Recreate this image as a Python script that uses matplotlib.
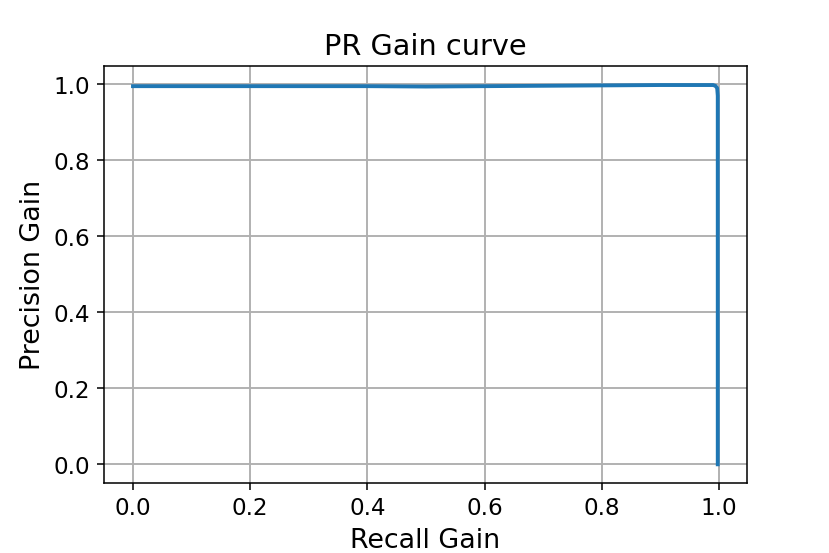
import matplotlib
matplotlib.use("Agg")
import matplotlib.pyplot as plt

# PR gain curve values
recall_gain = [0.0, 0.1, 0.2, 0.3, 0.4, 0.5, 0.6, 0.7, 0.8, 0.9, 0.95, 0.98, 0.99, 0.994, 0.997, 0.998, 0.998, 0.998]
precision_gain = [0.995, 0.995, 0.995, 0.995, 0.995, 0.994, 0.995, 0.996, 0.997, 0.998, 0.998, 0.998, 0.998, 0.996, 0.99, 0.97, 0.5, 0.0]

fig, ax = plt.subplots(figsize=(6, 4), dpi=138.33)
fig.subplots_adjust(left=0.125, right=0.9, top=0.88, bottom=0.126)

ax.plot(recall_gain, precision_gain, color="#1f77b4", linewidth=2)
ax.grid(True, color="#b0b0b0", linewidth=1)
ax.set_axisbelow(True)

ax.set_xticks([0.0, 0.2, 0.4, 0.6, 0.8, 1.0])
ax.set_yticks([0.0, 0.2, 0.4, 0.6, 0.8, 1.0])
ax.tick_params(labelsize=12)
ax.set_xlabel("Recall Gain", fontsize=14)
ax.set_ylabel("Precision Gain", fontsize=14)
ax.set_title("PR Gain curve", fontsize=15)

fig.savefig("out.png", dpi=138.33)
